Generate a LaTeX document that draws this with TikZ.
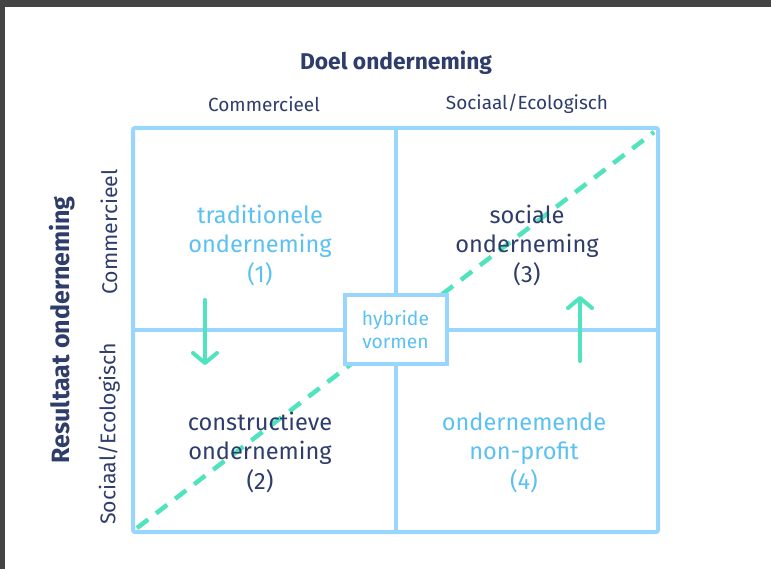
\documentclass[tikz,border=0pt]{standalone}
\usepackage{fontspec}
\setmainfont{Fira Sans}
\usetikzlibrary{arrows.meta}
\definecolor{navy}{HTML}{2E3D6B}
\definecolor{ltblue}{HTML}{5BC1F2}
\definecolor{gridblue}{HTML}{99D6FD}
\definecolor{mint}{HTML}{50E3BD}
\definecolor{frame}{HTML}{444444}
\begin{document}
\begin{tikzpicture}[x=1pt,y=-1pt,
  gridline/.style={draw=gridblue,line width=4pt},
  celltext/.style={align=center,font=\fontsize{23.6}{29.5}\selectfont,inner sep=0pt},
  axislabel/.style={font=\fontsize{19}{22}\selectfont,text=navy,inner sep=0pt},
  vlabel/.style={font=\fontsize{21.3}{24}\selectfont,text=navy,inner sep=0pt,rotate=90},
  axistitle/.style={font=\fontsize{22.8}{26}\selectfont\bfseries,text=navy,inner sep=0pt},
  mintarrow/.style={draw=mint,line width=4pt,line cap=round,-{Straight Barb[length=10pt,width=24pt,round]}},
  diag/.style={draw=mint,line width=4.5pt,dash pattern=on 14pt off 10pt}
]
\useasboundingbox (0,0) rectangle (771,569);
\fill[white] (0,0) rectangle (771,569);
\fill[frame] (0,0) rectangle (771,7);
\fill[frame] (0,0) rectangle (5,569);

% grid
\coordinate (TL) at (133,128);
\coordinate (BR) at (658,532);
\coordinate (TM) at (396,128);
\coordinate (BM) at (396,532);
\coordinate (LM) at (133,330);
\coordinate (RM) at (658,330);
\draw[gridline,rounded corners=2pt] (TL) rectangle (BR);
\draw[gridline] (TM) -- (BM);
\draw[gridline] (LM) -- (RM);

% diagonal
\coordinate (DA) at (137,528);
\coordinate (DB) at (654,132);
\draw[diag] (DA) -- (DB);

% hybrid box
\node[draw=gridblue,line width=4pt,fill=white,minimum width=102pt,minimum height=68pt,
  align=center,text=ltblue,font=\fontsize{19.3}{23.5}\selectfont,inner sep=0pt] (hyb) at (395.5,329.5) {hybride\\vormen};

% titles
\node[axistitle] (doel) at (396,62.5) {Doel onderneming};
\node[axislabel] (hc) at (264,104) {Commercieel};
\node[axislabel] (hs) at (527,104) {Sociaal/Ecologisch};
\node[axistitle,font=\fontsize{25}{28}\selectfont\bfseries,rotate=90] (res) at (62,330) {Resultaat onderneming};
\node[vlabel] (vc) at (109,232) {Commercieel};
\node[vlabel] (vs) at (109,434) {Sociaal/Ecologisch};

% cell texts
\node[celltext,text=ltblue] (c1) at (260,245.5) {traditionele\\onderneming\\(1)};
\node[celltext,text=navy] (c3) at (527,245.5) {sociale\\onderneming\\(3)};
\node[celltext,text=navy] (c2) at (260,452.5) {constructieve\\onderneming\\(2)};
\node[celltext,text=ltblue] (c4) at (524,452.5) {ondernemende\\non-profit\\(4)};

% arrows
\coordinate (a1s) at (205,300);
\coordinate (a1e) at (205,365);
\coordinate (a2s) at (580,361);
\coordinate (a2e) at (580,296);
\draw[mintarrow] (a1s) -- (a1e);
\draw[mintarrow] (a2s) -- (a2e);
\end{tikzpicture}
\end{document}
